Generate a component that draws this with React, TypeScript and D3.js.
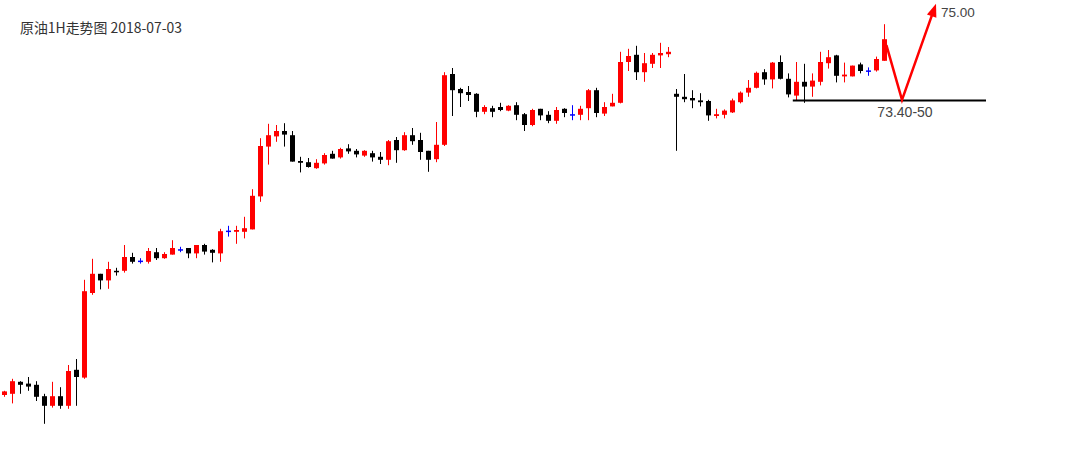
import * as d3 from 'd3';

// 原油 1H K线 (每根: 开 高 低 收)
const open = [
  68.55, 68.57, 68.77, 68.74, 68.72, 68.53, 68.37, 68.53, 68.37, 68.97,
  68.84, 70.25, 70.57, 70.46, 70.62, 70.62, 70.85, 70.79, 70.77, 70.93,
  70.83, 70.89, 70.98, 71.00, 70.91, 71.05, 70.97, 70.91, 71.29, 71.27,
  71.27, 71.31, 71.86, 72.69, 72.86, 72.95, 72.88, 72.45, 72.43, 72.33,
  72.41, 72.57, 72.51, 72.66, 72.62, 72.54, 72.58, 72.52, 72.47, 72.80,
  72.63, 72.88, 72.80, 72.62, 72.48, 72.72, 73.90, 73.65, 73.60, 73.57,
  73.27, 73.33, 73.35, 73.29, 73.38, 73.23, 73.05, 73.32, 73.22, 73.12,
  73.32, 73.23, 73.22, 73.33, 73.63, 73.24, 73.36, 73.42, 74.10, 74.22,
  73.93, 74.07, 74.21, 74.23, 73.57, 73.52, 73.50, 73.46, 73.45, 73.20,
  73.22, 73.26, 73.43, 73.59, 73.67, 73.93, 73.81, 74.10, 73.82, 73.54,
  73.77, 73.69, 73.77, 74.08, 74.21, 73.86, 73.86, 74.06, 73.96, 73.96,
  74.12,
];
const high = [
  68.62, 68.82, 68.78, 68.85, 68.78, 68.57, 68.77, 68.68, 69.05, 69.15,
  70.47, 70.82, 70.57, 70.77, 70.67, 71.05, 70.92, 70.83, 71.00, 71.00,
  70.93, 71.13, 71.02, 71.00, 71.05, 71.07, 70.98, 71.32, 71.37, 71.37,
  71.52, 71.98, 72.83, 73.07, 73.05, 73.08, 72.95, 72.52, 72.50, 72.48,
  72.58, 72.62, 72.67, 72.73, 72.65, 72.63, 72.62, 72.60, 72.80, 72.85,
  72.93, 73.00, 72.92, 72.62, 73.10, 73.93, 74.00, 73.67, 73.70, 73.58,
  73.38, 73.37, 73.42, 73.38, 73.43, 73.25, 73.32, 73.32, 73.28, 73.35,
  73.33, 73.38, 73.37, 73.65, 73.67, 73.43, 73.57, 74.27, 74.32, 74.37,
  74.25, 74.25, 74.42, 74.35, 73.65, 73.90, 73.63, 73.58, 73.47, 73.32,
  73.31, 73.49, 73.61, 73.80, 73.94, 73.98, 74.10, 74.21, 73.91, 74.10,
  74.07, 73.91, 74.27, 74.30, 74.22, 74.09, 74.04, 74.09, 74.01, 74.19,
  74.73,
];
const low = [
  68.52, 68.41, 68.57, 68.62, 68.45, 68.07, 68.34, 68.32, 68.32, 68.37,
  68.82, 70.22, 70.31, 70.32, 70.54, 70.59, 70.74, 70.74, 70.74, 70.80,
  70.82, 70.89, 70.93, 70.83, 70.83, 70.89, 70.76, 70.77, 71.19, 71.07,
  71.16, 71.31, 71.77, 72.39, 72.77, 72.69, 72.44, 72.26, 72.34, 72.32,
  72.39, 72.49, 72.49, 72.57, 72.51, 72.52, 72.44, 72.40, 72.38, 72.42,
  72.62, 72.72, 72.47, 72.27, 72.43, 72.70, 73.20, 73.35, 73.45, 73.18,
  73.23, 73.18, 73.28, 73.28, 73.13, 72.95, 73.03, 73.13, 73.08, 73.07,
  73.18, 73.13, 73.13, 73.13, 73.18, 73.20, 73.36, 73.41, 73.95, 73.80,
  73.77, 74.00, 74.00, 74.18, 72.62, 73.43, 73.33, 73.36, 73.12, 73.16,
  73.16, 73.25, 73.41, 73.52, 73.66, 73.72, 73.66, 73.81, 73.51, 73.46,
  73.42, 73.52, 73.71, 73.99, 73.76, 73.76, 73.86, 73.91, 73.87, 73.94,
  74.12,
];
const close = [
  68.61, 68.78, 68.72, 68.69, 68.52, 68.37, 68.53, 68.37, 68.95, 68.85,
  70.28, 70.57, 70.46, 70.65, 70.61, 70.85, 70.77, 70.79, 70.95, 70.83,
  70.90, 71.00, 70.98, 70.91, 71.05, 70.94, 70.92, 71.28, 71.29, 71.30,
  71.33, 71.87, 72.70, 72.88, 72.95, 72.89, 72.44, 72.42, 72.35, 72.42,
  72.55, 72.49, 72.65, 72.61, 72.56, 72.62, 72.51, 72.47, 72.78, 72.63,
  72.88, 72.78, 72.60, 72.47, 72.72, 73.88, 73.63, 73.58, 73.55, 73.27,
  73.35, 73.27, 73.30, 73.37, 73.22, 73.05, 73.30, 73.21, 73.12, 73.30,
  73.25, 73.23, 73.32, 73.63, 73.25, 73.35, 73.42, 74.10, 74.20, 73.93,
  74.08, 74.22, 74.25, 74.27, 73.52, 73.48, 73.46, 73.43, 73.21, 73.23,
  73.29, 73.46, 73.59, 73.67, 73.92, 73.81, 74.09, 73.82, 73.56, 73.77,
  73.69, 73.79, 74.10, 74.18, 73.87, 73.89, 74.04, 73.95, 73.96, 74.15,
  74.48,
];

// 支撑线与预期路径 (K线序号, 价格)
const supportLevel = 73.46;
const supportFrom = 99.1;
const supportTo = 123.25;
const pathIdx = [110.8, 112.75, 117.0];
const pathPrice = [74.38, 73.47, 75.07];
const targetLabel = '75.00';
const supportLabel = '73.40-50';
const title = '原油1H走势图 2018-07-03';

const W = 1087;
const H = 461;
const UP = '#ff0000';
const DOWN = '#000000';
const FLAT = '#0000ff';

export default function App() {
  const idx = open.map((_, i) => i);
  const x = d3.scaleBand<number>().domain(idx).range([0, idx.length * 8]);
  const xi = d3.scaleLinear().domain([0, idx.length]).range([0, idx.length * 8]);
  const y = d3.scaleLinear().domain([68, 75]).range([428, 8]);

  const bodyW = 5;
  const pts = pathIdx.map((v, i) => [xi(v), y(pathPrice[i])] as [number, number]);
  // 箭头
  const tip = pts[pts.length - 1];
  const prev = pts[pts.length - 2];
  const dx = tip[0] - prev[0];
  const dy = tip[1] - prev[1];
  const len = Math.hypot(dx, dy);
  const ux = dx / len, uy = dy / len;
  const headL = 13, headW = 5;
  const base: [number, number] = [tip[0] - ux * headL, tip[1] - uy * headL];
  const head = [
    tip,
    [base[0] - uy * headW, base[1] + ux * headW],
    [base[0] + uy * headW, base[1] - ux * headW],
  ];
  const linePts = [...pts.slice(0, -1), [base[0] + ux * 2, base[1] + uy * 2] as [number, number]];
  const path = d3.line()(linePts) || '';

  return (
    <div style={{ position: 'absolute', left: 0, top: 0 }}>
      <svg width={W} height={H} style={{ display: 'block', background: '#fff' }}>
        <text
          x={20}
          y={33}
          fontSize={14}
          fontFamily="'Noto Sans CJK SC', sans-serif"
          fill="#333"
          textLength={162}
          lengthAdjust="spacingAndGlyphs"
        >
          {title}
        </text>

        {idx.map((i) => {
          const o = open[i], c = close[i];
          const color = c > o ? UP : c < o ? DOWN : FLAT;
          const bx = (x(i) || 0) + 2;
          const cx = bx + 2.5;
          const top = y(Math.max(o, c));
          const h = Math.max(1.5, y(Math.min(o, c)) - top);
          return (
            <g key={i}>
              <line x1={cx} x2={cx} y1={y(high[i])} y2={y(low[i])} stroke={color} strokeWidth={1} />
              <rect x={bx} y={top} width={bodyW} height={h} fill={color} />
            </g>
          );
        })}

        <line
          x1={xi(supportFrom)}
          x2={xi(supportTo)}
          y1={y(supportLevel)}
          y2={y(supportLevel)}
          stroke="#000"
          strokeWidth={2}
        />
        <path d={path} fill="none" stroke={UP} strokeWidth={2.5} strokeLinejoin="miter" />
        <polygon points={head.map((p) => p.join(',')).join(' ')} fill={UP} />

        <text
          x={tip[0] + 5}
          y={y(75.0) + 8.5}
          fontSize={13.5}
          fontFamily="'Liberation Sans', Arial, sans-serif"
          fill="#444"
        >
          {targetLabel}
        </text>
        <text
          x={pts[1][0] + 3}
          y={y(supportLevel) + 16.5}
          textAnchor="middle"
          fontSize={14}
          fontFamily="'Liberation Sans', Arial, sans-serif"
          fill="#444"
        >
          {supportLabel}
        </text>
      </svg>
    </div>
  );
}
